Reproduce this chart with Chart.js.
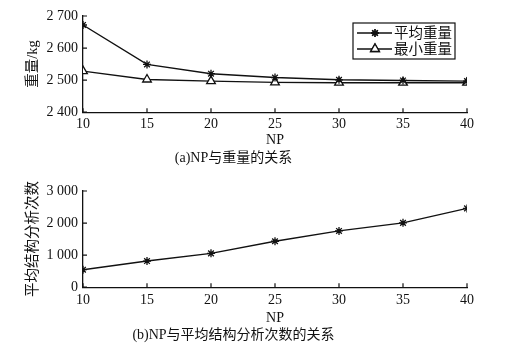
<!DOCTYPE html>
<html>
<head>
    <meta charset="utf-8">
    <title>NP 参数分析</title>
    <script src="https://cdn.jsdelivr.net/npm/chart.js@4.4.0/dist/chart.umd.min.js"></script>
    <style>
        body { margin: 0; background: #fff; }
        .wrap { position: relative; width: 508px; height: 349px; }
        canvas { position: absolute; left: 0; }
        #weightChart { top: 0; }
        #countChart { top: 175px; }
    </style>
</head>
<body>
    <div class="wrap">
        <canvas id="weightChart" width="508" height="174"></canvas>
        <canvas id="countChart" width="508" height="174"></canvas>
    </div>

    <script>
        // NP values and results
        const npValues = [10, 15, 20, 25, 30, 35, 40];
        const avgWeight = [2672, 2549, 2520, 2508, 2501, 2499, 2497];
        const minWeight = [2528, 2502, 2497, 2493, 2492, 2492, 2492];
        const avgAnalysisCount = [545, 815, 1056, 1433, 1755, 2006, 2458];

        const weightTicks = [2400, 2500, 2600, 2700];
        const countTicks = [0, 1000, 2000, 3000];

        const FONT = "'Liberation Serif', 'Noto Sans CJK SC', serif";
        const INK = '#111';

        const fmtNumber = (v) => String(v).replace(/\B(?=(\d{3})+(?!\d))/g, ' ');
        const toPoints = (ys) => npValues.map((x, i) => ({ x: x, y: ys[i] }));

        // short tick marks drawn inside the plot area
        const innerTicks = {
            id: 'innerTicks',
            afterDraw(chart) {
                const { ctx, chartArea, scales } = chart;
                ctx.save();
                ctx.strokeStyle = INK;
                ctx.lineWidth = 1.2;
                ctx.beginPath();
                scales.x.ticks.forEach(t => {
                    const px = scales.x.getPixelForValue(t.value);
                    ctx.moveTo(px, chartArea.bottom);
                    ctx.lineTo(px, chartArea.bottom - 4);
                });
                scales.y.ticks.forEach(t => {
                    const py = scales.y.getPixelForValue(t.value);
                    ctx.moveTo(chartArea.left, py);
                    ctx.lineTo(chartArea.left + 4, py);
                });
                ctx.stroke();
                ctx.restore();
            }
        };

        // legend box with line + marker samples
        const lineLegend = {
            id: 'lineLegend',
            afterDraw(chart, args, opts) {
                if (!opts.display) return;
                const { ctx, chartArea } = chart;
                const sets = chart.data.datasets;
                const w = 102, rowH = 16;
                const h = sets.length * rowH + 4;
                const x0 = chartArea.right - 12 - w;
                const y0 = chartArea.top + 7;
                ctx.save();
                ctx.fillStyle = '#fff';
                ctx.fillRect(x0, y0, w, h);
                ctx.strokeStyle = INK;
                ctx.lineWidth = 1.2;
                ctx.strokeRect(x0, y0, w, h);
                sets.forEach((ds, i) => {
                    const cy = y0 + 10 + i * rowH;
                    ctx.strokeStyle = ds.borderColor;
                    ctx.lineWidth = ds.borderWidth;
                    ctx.beginPath();
                    ctx.moveTo(x0 + 4, cy);
                    ctx.lineTo(x0 + 39, cy);
                    ctx.stroke();
                    Chart.helpers.drawPoint(ctx, {
                        pointStyle: ds.pointStyle,
                        radius: ds.pointRadius,
                        borderWidth: ds.pointBorderWidth,
                        rotation: 0
                    }, x0 + 22, cy);
                    ctx.fillStyle = ds.pointBackgroundColor;
                    ctx.strokeStyle = ds.borderColor;
                    ctx.lineWidth = ds.pointBorderWidth;
                    ctx.fill();
                    ctx.stroke();
                    ctx.fillStyle = INK;
                    ctx.font = '14.5px ' + FONT;
                    ctx.textBaseline = 'middle';
                    ctx.fillText(ds.label, x0 + 41, cy + 1);
                });
                ctx.restore();
            }
        };

        // gap: spacing under the x axis {tick padding, axis height, caption top/bottom padding}
        function makeChart(id, datasets, yTicks, yTitle, caption, showLegend, gap) {
            return new Chart(document.getElementById(id), {
                type: 'line',
                data: { datasets: datasets },
                options: {
                    responsive: false,
                    animation: false,
                    devicePixelRatio: 1,
                    layout: { padding: { top: 16, right: 41, left: 0, bottom: 0 } },
                    plugins: {
                        legend: { display: false },
                        tooltip: { enabled: false },
                        lineLegend: { display: showLegend },
                        title: {
                            display: true,
                            position: 'bottom',
                            text: caption,
                            color: INK,
                            font: { family: FONT, size: 14, weight: 'normal' },
                            padding: { top: gap.capTop, bottom: gap.capBottom }
                        }
                    },
                    scales: {
                        x: {
                            type: 'linear',
                            min: npValues[0],
                            max: npValues[npValues.length - 1],
                            afterBuildTicks: (s) => { s.ticks = npValues.map(v => ({ value: v })); },
                            afterFit: (s) => { s.height = gap.axis; },
                            ticks: { color: INK, font: { family: FONT, size: 14 }, padding: gap.tick, maxRotation: 0 },
                            grid: { drawOnChartArea: false, drawTicks: false },
                            border: { color: INK, width: 1.3 },
                            title: {
                                display: true, text: 'NP', color: INK,
                                font: { family: FONT, size: 14 },
                                padding: { top: 0, bottom: 0 }
                            }
                        },
                        y: {
                            min: yTicks[0],
                            max: yTicks[yTicks.length - 1],
                            afterBuildTicks: (s) => { s.ticks = yTicks.map(v => ({ value: v })); },
                            afterFit: (s) => { s.width = 83; },
                            ticks: {
                                color: INK, font: { family: FONT, size: 14 }, padding: 5,
                                callback: (v) => fmtNumber(v)
                            },
                            grid: { drawOnChartArea: false, drawTicks: false },
                            border: { color: INK, width: 1.3 },
                            title: {
                                display: true, text: yTitle, color: INK,
                                font: { family: FONT, size: 14.5 },
                                padding: { top: 24, bottom: 0 }
                            }
                        }
                    }
                },
                plugins: [innerTicks, lineLegend]
            });
        }

        const seriesStyle = {
            borderColor: INK,
            borderWidth: 1.4,
            pointBorderWidth: 1.3,
            tension: 0
        };

        makeChart('weightChart', [
            Object.assign({}, seriesStyle, {
                label: '平均重量',
                data: toPoints(avgWeight),
                pointStyle: 'star',
                pointRadius: 4,
                pointBackgroundColor: INK
            }),
            Object.assign({}, seriesStyle, {
                label: '最小重量',
                data: toPoints(minWeight),
                pointStyle: 'triangle',
                pointRadius: 5,
                pointBackgroundColor: '#fff'
            })
        ], weightTicks, '重量/kg', '(a)NP与重量的关系', true,
           { tick: 4, axis: 37, capTop: 1, capBottom: 7 });

        makeChart('countChart', [
            Object.assign({}, seriesStyle, {
                label: '平均结构分析次数',
                data: toPoints(avgAnalysisCount),
                pointStyle: 'star',
                pointRadius: 4,
                pointBackgroundColor: INK
            })
        ], countTicks, '平均结构分析次数', '(b)NP与平均结构分析次数的关系', false,
           { tick: 5, axis: 40, capTop: 0, capBottom: 5 });
    </script>
</body>
</html>
